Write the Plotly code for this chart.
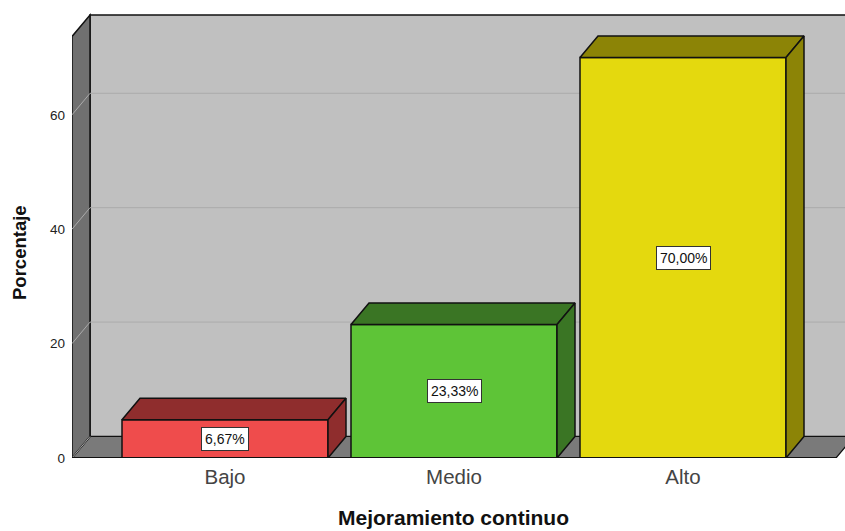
import numpy as np
import plotly.graph_objects as go

# Data
categories = ["Bajo", "Medio", "Alto"]
values = [6.67, 23.33, 70.00]
value_labels = ["6,67%", "23,33%", "70,00%"]
y_ticks = [0, 20, 40, 60]
x_title = "Mejoramiento continuo"
y_title = "Porcentaje"

# Style
front_colors = ["#ef4c4c", "#5ec437", "#e4d90e"]
depth_colors = ["#8f2d2d", "#3a7524", "#8c8406"]
WALL = "#c0c0c0"
SIDE = "#707070"
FLOOR = "#7a7a7a"
GRID = "#ababab"
W, H = 845, 531
L, B = 72, 73            # plot margins
PX_PER_Y = 5.72
PX_PER_X = 229.0
X0_PX = 225.0            # pixel centre of first category
DX_PX, DY_PX = 18.0, 21.5

positions = np.arange(len(categories), dtype=float)
plot_h = H - B
x_min = (L - X0_PX) / PX_PER_X
x_max = (W - X0_PX) / PX_PER_X
y_max = plot_h / PX_PER_Y
dx = DX_PX / PX_PER_X
dy = DY_PX / PX_PER_Y
bar_w = 206 / PX_PER_X
wall_top = y_max - 15 / PX_PER_Y
y_front_top = wall_top - dy
x_far = x_max + dx + 0.1
left = x_min
floor_right = x_max - 9 / PX_PER_X

fig = go.Figure()


def path(xs, ys):
    pts = [f"{a:.5f},{b:.5f}" for a, b in zip(xs, ys)]
    return "M" + " L".join(pts) + " Z"


def wall(xs, ys, fill, lw=1.5):
    fig.add_shape(type="path", path=path(xs, ys), fillcolor=fill,
                  line=dict(color="#111111", width=lw), layer="below")


def seg(x0, y0, x1, y1, color, lw=1.0):
    fig.add_shape(type="line", x0=x0, y0=y0, x1=x1, y1=y1,
                  line=dict(color=color, width=lw), layer="below")


def poly(xs, ys, fill, line="#111111", lw=1.5):
    fig.add_trace(go.Scatter(
        x=xs, y=ys, mode="lines", fill="toself", fillcolor=fill,
        line=dict(color=line, width=lw), hoverinfo="skip", showlegend=False))


# back wall, floor, left wall
wall([left + dx, x_far, x_far, left + dx], [dy, dy, wall_top, wall_top], WALL)
wall([left, left + dx, floor_right + dx, floor_right], [0, dy, dy, 0], FLOOR, 1.2)
wall([left, left + dx, left + dx, left], [0, dy, wall_top, y_front_top], SIDE)
# grid lines
for t in y_ticks[1:]:
    seg(left + dx, t + dy, x_far, t + dy, GRID)
    seg(left, t, left + dx, t + dy, GRID)
seg(left, 0, left + dx, dy, GRID)

# bars: front faces
fig.add_trace(go.Bar(
    x=positions, y=values, width=bar_w,
    marker=dict(color=front_colors, line=dict(color="#111111", width=1.5)),
    hoverinfo="skip", showlegend=False))

# bars: depth faces
for p, v, c in zip(positions, values, depth_colors):
    xl, xr = p - bar_w / 2, p + bar_w / 2
    poly([xl, xl + dx, xr + dx, xr, xl], [v, v + dy, v + dy, v, v], c)
    poly([xr, xr + dx, xr + dx, xr, xr], [0, dy, v + dy, v, 0], c)

# base line
fig.add_trace(go.Scatter(x=[left, floor_right], y=[0, 0], mode="lines",
                         line=dict(color="#111111", width=2),
                         hoverinfo="skip", showlegend=False, cliponaxis=False))

# value labels
for p, v, lab in zip(positions, values, value_labels):
    fig.add_annotation(
        x=p, y=v / 2, text=lab, showarrow=False,
        font=dict(family="Liberation Sans", size=14, color="#111111"),
        bgcolor="#ffffff", bordercolor="#333333", borderwidth=1, borderpad=3)

# axis titles
fig.add_annotation(xref="paper", yref="paper", x=(453.5 - L) / (W - L), y=(plot_h - 517.5) / plot_h,
                   text=f"<b>{x_title}</b>", showarrow=False, xanchor="center", yanchor="middle",
                   font=dict(family="Liberation Sans", size=21, color="#111111"))
fig.add_annotation(xref="paper", yref="paper", x=(19 - L) / (W - L), y=(plot_h - 253) / plot_h,
                   text=f"<b>{y_title}</b>", showarrow=False, textangle=-90,
                   xanchor="center", yanchor="middle",
                   font=dict(family="Liberation Sans", size=18.5, color="#111111"))

fig.update_layout(
    width=W, height=H, autosize=False,
    margin=dict(l=L, r=0, t=0, b=B, pad=0),
    paper_bgcolor="#ffffff", plot_bgcolor="#ffffff",
    showlegend=False, barmode="overlay",
    font=dict(family="Liberation Sans", color="#222222"),
    xaxis=dict(
        range=[x_min, x_max], tickmode="array", tickvals=positions.tolist(),
        ticktext=categories, showgrid=False, zeroline=False, showline=False,
        ticks="", ticklen=0, ticklabelstandoff=4,
        tickfont=dict(size=20.5, color="#444444"), automargin=False),
    yaxis=dict(
        range=[0, y_max], tickmode="array", tickvals=y_ticks,
        showgrid=False, zeroline=False, showline=False,
        ticks="", ticklabelstandoff=6,
        tickfont=dict(size=13.5, color="#222222"), automargin=False),
)

fig.write_html("out.html", config={"displayModeBar": False},
               post_script="document.body.style.margin='0';")
